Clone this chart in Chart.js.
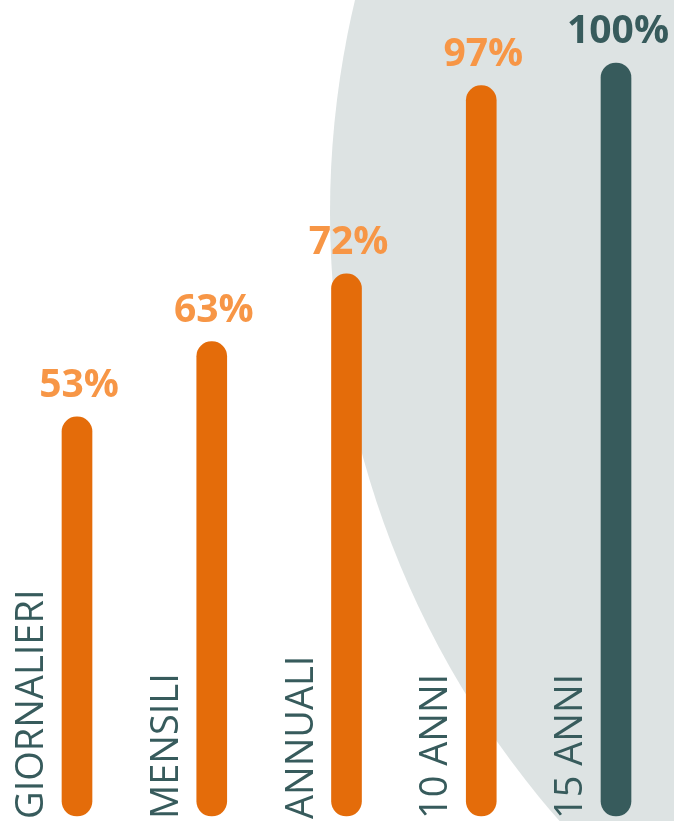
<!DOCTYPE html>
<html>
<head>
<meta charset="utf-8">
<script src="https://cdn.jsdelivr.net/npm/chart.js@4/dist/chart.umd.min.js"></script>
<style>
  html, body { margin: 0; padding: 0; background: #ffffff; }
  #wrap { width: 674px; height: 821px; position: relative; }
</style>
</head>
<body>
<div id="wrap"><canvas id="c"></canvas></div>
<script>
const categories = ["GIORNALIERI", "MENSILI", "ANNUALI", "10 ANNI", "15 ANNI"];
const values = [53, 63, 72, 97, 100];
const valueLabels = ["53%", "63%", "72%", "97%", "100%"];

const ORANGE = "#E46C0A";
const LIGHT_ORANGE = "#F79646";
const TEAL = "#375B5C";
const BG_GRAY = "#DDE3E3";

const barColors = values.map((v, i) => i === values.length - 1 ? TEAL : ORANGE);
const valueColors = values.map((v, i) => i === values.length - 1 ? TEAL : LIGHT_ORANGE);

const bgCircle = {
  id: 'bgCircle',
  beforeDraw(chart) {
    const ctx = chart.ctx;
    ctx.save();
    ctx.fillStyle = BG_GRAY;
    ctx.beginPath();
    ctx.arc(1250, 213, 920, 0, Math.PI * 2);
    ctx.fill();
    ctx.restore();
  }
};

const labelsPlugin = {
  id: 'labelsPlugin',
  afterDatasetsDraw(chart) {
    const ctx = chart.ctx;
    const meta = chart.getDatasetMeta(0);
    const ys = chart.scales.y;
    ctx.save();
    meta.data.forEach((bar, i) => {
      ctx.font = "bold 39px 'Open Sans'";
      ctx.fillStyle = valueColors[i];
      ctx.textAlign = 'center';
      ctx.textBaseline = 'alphabetic';
      ctx.fillText(valueLabels[i], bar.x + 2, bar.y - 20);
      ctx.save();
      ctx.translate(bar.x - 34, ys.getPixelForValue(0) + 3);
      ctx.rotate(-Math.PI / 2);
      ctx.font = "400 38px 'Open Sans'";
      ctx.fillStyle = TEAL;
      ctx.textAlign = 'left';
      ctx.textBaseline = 'alphabetic';
      ctx.fillText(categories[i], 0, 0);
      ctx.restore();
    });
    ctx.restore();
  }
};

new Chart(document.getElementById('c'), {
  type: 'bar',
  data: {
    labels: categories,
    datasets: [{
      data: values,
      backgroundColor: barColors,
      borderWidth: 0,
      borderRadius: 15,
      borderSkipped: false,
      barThickness: 30,
      clip: false
    }]
  },
  options: {
    responsive: true,
    maintainAspectRatio: false,
    animation: false,
    layout: { padding: { left: 77, right: 58, top: 63, bottom: 5 } },
    plugins: { legend: { display: false }, tooltip: { enabled: false } },
    scales: {
      x: { offset: false, display: false, grid: { display: false } },
      y: { min: 0, max: 100, display: false, grid: { display: false } }
    }
  },
  plugins: [bgCircle, labelsPlugin]
});
</script>
</body>
</html>
